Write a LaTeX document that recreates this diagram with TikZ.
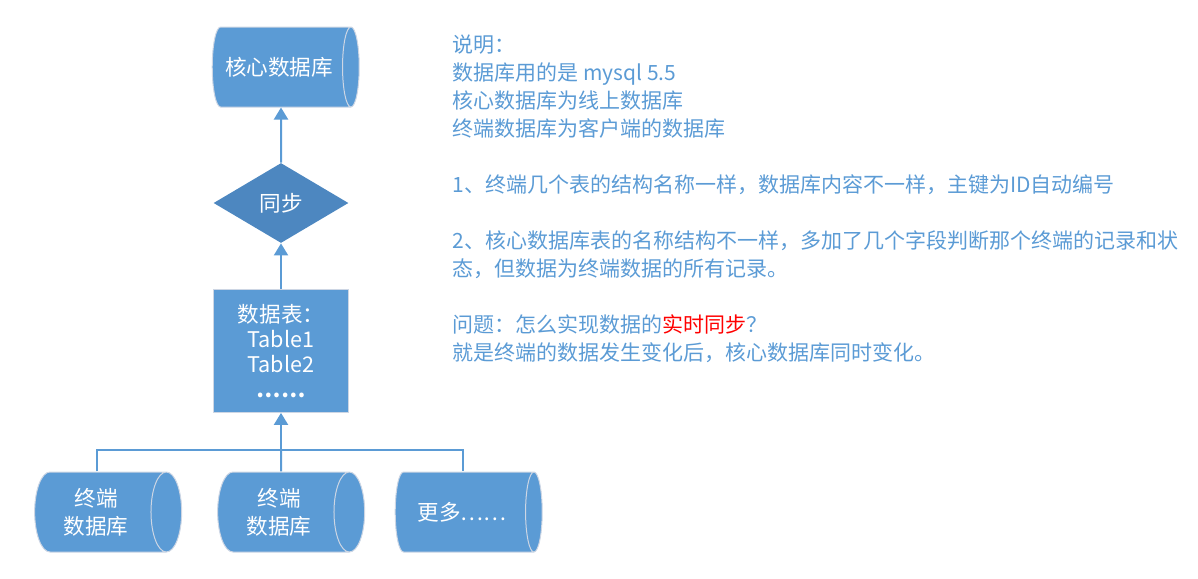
\documentclass[tikz,border=0pt]{standalone}
\usepackage{fontspec}
\setmainfont{Noto Sans CJK SC}
\usetikzlibrary{shapes.geometric,arrows.meta}
\definecolor{dbblue}{RGB}{91,155,213}
\definecolor{syncblue}{RGB}{77,135,192}
\definecolor{rim}{RGB}{205,214,228}

\begin{document}
\begin{tikzpicture}[x=0.5pt,y=-0.5pt,>={Triangle[width=7pt,length=6pt]},
    link/.style={draw=dbblue, line width=1pt},
    db/.style={cylinder, shape border rotate=0, aspect=0.5, draw=rim, line width=0.5pt,
        cylinder uses custom fill, cylinder body fill=dbblue, cylinder end fill=dbblue,
        minimum width=40pt, minimum height=73.5pt, text=white, font=\fontsize{10.8}{14}\selectfont, align=center},
    ]
    \useasboundingbox (0,0) rectangle (1198,578);

    \node[db] (core) at (279,67) {核心数据库};
    \node[diamond, fill=syncblue, minimum width=67.5pt, minimum height=40pt, inner sep=0pt, aspect=1.7,
        text=white, font=\fontsize{10.8}{14}\selectfont] (sync) at (281,203) {同步};
    \node[draw=rim, fill=dbblue, minimum width=67.5pt, minimum height=61.5pt, text=white, align=center,
        font=\fontsize{10.8}{12.5}\selectfont] (tables) at (281,351) {数据表：\\Table1\\Table2\\\textbf{……}};

    % bottom row
    \node[db] (term1) at (96,512) {终端\\数据库};
    \node[db] (term2) at (279,512) {终端\\数据库};
    \node[db] (more) at (462,512) {更多……};

    \coordinate (hub) at (281,450);
    \draw[link] ([xshift=0.5pt]term1.north) |- (hub) -| ([xshift=0.5pt]more.north);
    \draw[link] ([xshift=1pt]term2.north) -- (hub);
    \draw[link,->] (hub) -- (tables.south);
    \draw[link,->] (tables.north) -- (sync.south);
    \draw[link,->] (sync.north) -- ([xshift=1pt]core.south);

    % notes on the right
    \node[anchor=north west, align=left, text=dbblue, font=\fontsize{10.5}{14}\selectfont, inner sep=0pt] (note) at (452,34)
        {说明：\\
        数据库用的是 mysql 5.5\\
        核心数据库为线上数据库\\
        终端数据库为客户端的数据库\\[14pt]
        1、终端几个表的结构名称一样，数据库内容不一样，主键为ID自动编号\\[14pt]
        2、核心数据库表的名称结构不一样，多加了几个字段判断那个终端的记录和状\\
        态，但数据为终端数据的所有记录。\\[14pt]
        问题：怎么实现数据的\textcolor{red}{实时同步}？\\
        就是终端的数据发生变化后，核心数据库同时变化。};
\end{tikzpicture}
\end{document}
